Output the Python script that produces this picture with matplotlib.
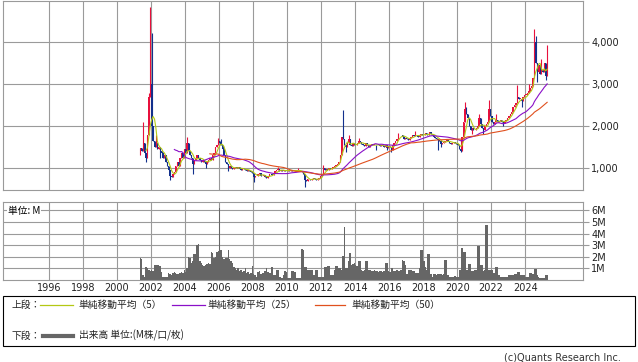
import numpy as np
import pandas as pd
import matplotlib
matplotlib.use("Agg")
import matplotlib.pyplot as plt
from matplotlib.patches import Rectangle
from matplotlib.lines import Line2D

# monthly candles, May 2001 .. Apr 2025
START = "2001-05"
FIRST_OPEN = 1300

close_2001 = [1480, 1400, 1600, 1350, 1250, 1800, 2700, 3000]
close_2002 = [2000, 1650, 1500, 1600, 1450, 1500, 1400, 1350, 1250, 1300, 1150, 1050]
close_2003 = [950, 800, 780, 850, 900, 1050, 1150, 1050, 1250, 1350, 1250, 1450]
close_2004 = [1350, 1600, 1400, 1300, 1250, 1100, 1200, 1250, 1300, 1250, 1200, 1150]
close_2005 = [1200, 1150, 1100, 1150, 1200, 1250, 1200, 1300, 1350, 1500, 1550, 1650]
close_2006 = [1600, 1550, 1450, 1300, 1150, 1100, 1000, 1050, 1000, 980, 1000, 1020]
close_2007 = [1000, 1020, 980, 950, 1000, 980, 960, 920, 950, 940, 900, 880]
close_2008 = [780, 800, 820, 850, 880, 820, 800, 830, 780, 760, 800, 850]
close_2009 = [850, 830, 880, 920, 950, 970, 940, 960, 930, 950, 920, 940]
close_2010 = [950, 930, 960, 940, 920, 950, 930, 960, 940, 920, 900, 850]
close_2011 = [720, 700, 730, 750, 720, 740, 760, 730, 710, 740, 760, 800]
close_2012 = [850, 1000, 950, 980, 950, 1000, 980, 1000, 1020, 1050, 1080, 1100]
close_2013 = [1150, 1300, 1750, 1700, 1550, 1500, 1600, 1700, 1550, 1520, 1600, 1560]
close_2014 = [1550, 1600, 1650, 1620, 1580, 1550, 1530, 1600, 1560, 1500, 1550, 1560]
close_2015 = [1550, 1560, 1540, 1560, 1550, 1530, 1560, 1520, 1500, 1540, 1480, 1530]
close_2016 = [1500, 1420, 1550, 1600, 1650, 1700, 1780, 1800, 1780, 1750, 1700, 1720]
close_2017 = [1700, 1680, 1720, 1750, 1780, 1760, 1800, 1780, 1750, 1800, 1820, 1780]
close_2018 = [1800, 1830, 1780, 1800, 1850, 1820, 1780, 1750, 1720, 1700, 1680, 1650]
close_2019 = [1580, 1600, 1620, 1650, 1680, 1640, 1600, 1580, 1600, 1620, 1600, 1580]
close_2020 = [1550, 1450, 1400, 1750, 2100, 2400, 2300, 2200, 2000, 1900, 1950, 1900]
close_2021 = [1900, 1950, 2000, 2200, 2050, 1950, 1900, 2000, 2050, 2100, 2400, 2250]
close_2022 = [2100, 2050, 2100, 2150, 2100, 2120, 2150, 2100, 2080, 2120, 2150, 2200]
close_2023 = [2250, 2300, 2350, 2450, 2500, 2550, 2700, 2650, 2650, 2600, 2700, 2750]
close_2024 = [2750, 2800, 2850, 2900, 2950, 3150, 4000, 3500, 3300, 3450, 3250, 3350]
close_2025 = [3300, 3500, 3200, 3450]

# wicks that stick out past the body
high_months = ["2001-07", "2001-11", "2001-12", "2002-01", "2002-04", "2004-02", "2005-12",
               "2006-02", "2009-06", "2010-08", "2012-02", "2013-04", "2013-08", "2014-03",
               "2016-07", "2017-07", "2018-05", "2020-06", "2020-07", "2021-04", "2021-11",
               "2022-04", "2023-07", "2024-03", "2024-07", "2024-08", "2024-12", "2025-04"]
high_values = [2100, 2800, 4850, 4220, 1800, 1750, 1710,
               1700, 1020, 1000, 1070, 2380, 1800, 1720,
               1830, 1880, 1865, 2580, 2450, 2300, 2620,
               2300, 2980, 3000, 4330, 4150, 3600, 3930]
low_months = ["2001-09", "2002-07", "2003-02", "2004-06", "2005-03", "2006-07", "2008-01",
              "2011-01", "2013-06", "2015-03", "2015-11", "2016-02", "2018-11", "2019-01",
              "2020-03", "2020-11", "2021-07", "2022-09", "2023-10", "2024-09", "2025-03"]
low_values = [1150, 1250, 720, 860, 1000, 920, 670,
              555, 1380, 1440, 1430, 1390, 1430, 1500,
              1380, 1820, 1820, 2000, 2450, 3050, 3100]

# volume, millions of shares
vol_2001 = [1.9, 1.8, 0.4, 0.3, 1.1, 1.0, 0.9, 0.8]
vol_2002 = [0.9, 0.8, 1.3, 1.3, 1.3, 1.3, 1.2, 0.7, 0.3, 0.25, 0.25, 0.3]
vol_2003 = [0.6, 0.5, 0.4, 0.6, 0.7, 0.6, 0.5, 0.5, 0.6, 0.7, 0.6, 0.9]
vol_2004 = [0.7, 1.0, 2.0, 1.9, 1.5, 1.6, 2.2, 2.2, 3.0, 3.1, 1.6, 1.5]
vol_2005 = [1.3, 1.2, 1.3, 1.4, 1.5, 1.4, 2.4, 2.3, 1.9, 2.0, 2.4, 2.5]
vol_2006 = [6.2, 2.6, 2.0, 1.8, 1.9, 1.9, 2.6, 1.8, 1.6, 1.5, 1.1, 1.0]
vol_2007 = [0.9, 1.0, 0.8, 0.9, 0.7, 0.8, 1.0, 0.6, 0.7, 0.5, 0.6, 1.2]
vol_2008 = [0.5, 0.4, 0.3, 0.7, 0.8, 0.5, 0.6, 0.6, 0.8, 1.0, 0.7, 0.6]
vol_2009 = [0.6, 1.1, 0.4, 0.4, 0.9, 0.9, 0.3, 0.3, 0.2, 0.4, 0.75, 0.7]
vol_2010 = [0.2, 0.2, 0.2, 0.75, 0.75, 0.7, 0.2, 0.2, 0.2, 0.2, 2.65, 2.6]
vol_2011 = [1.1, 1.1, 0.9, 0.9, 0.85, 0.85, 0.4, 0.4, 0.9, 0.9, 0.3, 0.3]
vol_2012 = [0.3, 0.3, 1.1, 1.1, 1.2, 1.2, 0.4, 0.4, 0.4, 0.9, 1.2, 1.2]
vol_2013 = [1.0, 1.0, 0.9, 2.1, 4.55, 1.0, 1.0, 1.6, 2.3, 1.3, 1.4, 1.5]
vol_2014 = [1.3, 1.2, 1.6, 1.6, 0.9, 0.8, 0.9, 1.6, 1.6, 0.9, 0.9, 0.8]
vol_2015 = [0.8, 0.85, 0.8, 0.8, 0.7, 0.75, 0.8, 0.7, 0.8, 1.5, 1.5, 0.8]
vol_2016 = [0.7, 1.0, 1.0, 0.8, 0.8, 0.9, 0.8, 0.8, 0.85, 1.7, 1.6, 1.3]
vol_2017 = [0.5, 0.85, 0.85, 0.85, 0.8, 0.8, 0.6, 0.6, 0.6, 1.0, 2.6, 2.6]
vol_2018 = [1.6, 1.1, 0.85, 2.2, 2.2, 0.5, 0.3, 0.5, 0.5, 0.4, 0.5, 0.5]
vol_2019 = [0.5, 0.4, 0.5, 1.7, 1.7, 0.4, 0.3, 0.3, 0.3, 0.3, 0.35, 0.3]
vol_2020 = [0.3, 0.9, 0.9, 2.75, 2.4, 2.4, 0.9, 0.9, 1.4, 1.4, 0.8, 0.8]
vol_2021 = [0.9, 0.9, 2.9, 2.9, 1.3, 1.3, 0.8, 0.9, 4.7, 4.7, 0.9, 0.9]
vol_2022 = [0.9, 0.6, 0.6, 1.1, 1.1, 0.4, 0.3, 0.3, 0.3, 0.3, 0.3, 0.3]
vol_2023 = [0.4, 0.4, 0.4, 0.4, 0.5, 0.5, 0.7, 0.7, 0.4, 0.4, 0.45, 0.45]
vol_2024 = [0.3, 0.3, 0.3, 0.6, 0.6, 0.5, 0.95, 0.95, 0.45, 0.3, 0.2, 0.2]
vol_2025 = [0.2, 0.2, 0.4, 0.4]

price_ticks = [1000, 2000, 3000, 4000]
price_labels = ["1,000", "2,000", "3,000", "4,000"]
vol_ticks = [1, 2, 3, 4, 5, 6]
vol_labels = ["1M", "2M", "3M", "4M", "5M", "6M"]
year_ticks = list(range(1996, 2025, 2))

MA_PERIODS = [5, 25, 50]
MA_COLORS = ["#b4c814", "#8a10c8", "#e0501e"]
UP_COLOR = "#e8103c"
DOWN_COLOR = "#12308c"
GRID = "#9a9a9a"

closes = (close_2001 + close_2002 + close_2003 + close_2004 + close_2005 + close_2006 +
          close_2007 + close_2008 + close_2009 + close_2010 + close_2011 + close_2012 +
          close_2013 + close_2014 + close_2015 + close_2016 + close_2017 + close_2018 +
          close_2019 + close_2020 + close_2021 + close_2022 + close_2023 + close_2024 + close_2025)
volumes = (vol_2001 + vol_2002 + vol_2003 + vol_2004 + vol_2005 + vol_2006 + vol_2007 +
           vol_2008 + vol_2009 + vol_2010 + vol_2011 + vol_2012 + vol_2013 + vol_2014 +
           vol_2015 + vol_2016 + vol_2017 + vol_2018 + vol_2019 + vol_2020 + vol_2021 +
           vol_2022 + vol_2023 + vol_2024 + vol_2025)

months = pd.period_range(START, periods=len(closes), freq="M")
df = pd.DataFrame({"close": closes, "volume": volumes}, index=months)
df["open"] = df["close"].shift(1).fillna(FIRST_OPEN)
df["high"] = df[["open", "close"]].max(axis=1)
df["low"] = df[["open", "close"]].min(axis=1)
for m, v in zip(high_months, high_values):
    df.loc[pd.Period(m, "M"), "high"] = v
for m, v in zip(low_months, low_values):
    df.loc[pd.Period(m, "M"), "low"] = v
# decimal year at mid-month
xs = np.array([p.year + (p.month - 0.5) / 12 for p in df.index])

W, H = 638, 362
fig = plt.figure(figsize=(W / 100, H / 100), dpi=100)
plt.rcParams["font.family"] = ["DejaVu Sans"]
JP = ["Noto Sans CJK JP", "DejaVu Sans"]


def fbox(x0, y0, x1, y1):
    return [x0 / W, 1 - y1 / H, (x1 - x0) / W, (y1 - y0) / H]


ax = fig.add_axes(fbox(3, 0.5, 583, 190))
axv = fig.add_axes(fbox(3, 201.7, 583, 280))
XLIM = (1993.3, 2027.4)

for a in (ax, axv):
    a.set_xlim(*XLIM)
    a.set_xticks(year_ticks)
    a.grid(True, color=GRID, lw=0.8)
    a.set_axisbelow(True)
    for s in a.spines.values():
        s.set_color(GRID)
        s.set_linewidth(0.8)
    a.yaxis.tick_right()
    a.tick_params(axis="y", length=4, width=0.8, color=GRID, labelsize=7, pad=2,
                  labelcolor="#222222")
    a.tick_params(axis="x", length=0, labelsize=7, labelcolor="#222222")

# candles
up = df["close"] >= df["open"]
colors = np.where(up, UP_COLOR, DOWN_COLOR)
ax.vlines(xs, df["low"], df["high"], colors=colors, lw=0.8)
body_lo = df[["open", "close"]].min(axis=1)
body_h = np.maximum((df["close"] - df["open"]).abs(), 15)
ax.bar(xs, body_h, bottom=body_lo, width=0.08, color=colors, lw=0)

for n, c in zip(MA_PERIODS, MA_COLORS):
    ma = df["close"].rolling(n).mean()
    ax.plot(xs, ma, color=c, lw=0.8)

ax.set_ylim(476, 5000)
ax.set_yticks(price_ticks)
ax.set_yticklabels(price_labels)
ax.set_xticklabels([])

axv.bar(xs, df["volume"], width=1 / 12, color="#666666", lw=0)
axv.set_ylim(0, 6.75)
axv.set_yticks(vol_ticks)
axv.set_yticklabels(vol_labels)
axv.set_xticklabels([str(y) for y in year_ticks])
axv.tick_params(axis="x", pad=2)
axv.text(5 / 580, 0.88, "単位: M", transform=axv.transAxes, family=JP, fontsize=7,
         va="center", ha="left", bbox=dict(facecolor="white", edgecolor="none", pad=0.5))

# legend box
fig.add_artist(Rectangle((3 / W, 1 - 346 / H), 632 / W, 50 / H, transform=fig.transFigure,
                         fill=False, edgecolor="black", lw=0.8))


def ftext(x, y, s, **kw):
    fig.text(x / W, 1 - y / H, s, family=JP, fontsize=7, va="center", ha="left",
             color="#222222", **kw)


def fline(x0, x1, y, color, lw):
    fig.add_artist(Line2D([x0 / W, x1 / W], [1 - y / H, 1 - y / H], color=color, lw=lw,
                          transform=fig.transFigure))


row1, row2 = 304.5, 335.5
ftext(12, row1, "上段：")
leg_x = [(40, 73, 78), (172, 205, 207), (315, 345, 351)]
for (l0, l1, tx), n, c in zip(leg_x, MA_PERIODS, MA_COLORS):
    fline(l0, l1, row1, c, 0.9)
    ftext(tx, row1, f"単純移動平均（{n}）")
ftext(12, row2, "下段：")
fline(43, 73, row2, "#666666", 3)
ftext(79, row2, "出来高 単位:(M株/口/枚)")

fig.text(621 / W, 1 - 357 / H, "(c)Quants Research Inc.", fontsize=7, ha="right",
         va="center", color="#333333")

fig.savefig("out.png", dpi=100)
